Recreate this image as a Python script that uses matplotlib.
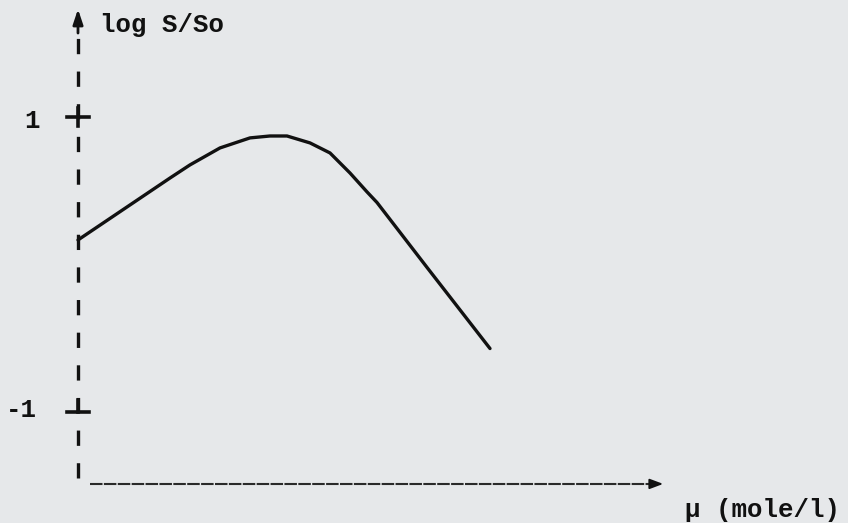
import matplotlib.pyplot as plt

plt.rcParams['lines.scale_dashes'] = False

# curve (x in arbitrary units along the mu axis)
mu = [0, 0.92, 1.12, 1.42, 1.72, 1.92, 2.09, 2.32, 2.52, 2.72, 2.89, 2.99, 3.49, 4.12]
log_s = [0.166, 0.586, 0.675, 0.79, 0.858, 0.871, 0.871, 0.824, 0.756, 0.62,
         0.492, 0.42, -0.02, -0.57]

y_ticks = [1, -1]
y_tick_labels = ['1', '-1']

bg = '#e6e8ea'
ink = '#111111'
font = 'Liberation Mono'

fig = plt.figure(figsize=(8.48, 5.23), dpi=100)
fig.patch.set_facecolor(bg)
ax = fig.add_axes([0, 0, 1, 1])
ax.set_facecolor(bg)
ax.set_xlim(-0.78, 7.70)
ax.set_ylim(-1.753, 1.793)
ax.axis('off')

# dashed y axis with arrow on top
ax.plot([0, 0], [-1.45, 1.56], color=ink, lw=2.4, linestyle=(0, (11, 12.5)))
ax.annotate('', xy=(0, 1.75), xytext=(0, 1.55),
            arrowprops=dict(arrowstyle='-|>,head_length=0.9,head_width=0.3',
                            color=ink, lw=2))

# tick marks: "+" at 1, "_|_" at -1
ax.plot([-0.11, 0.11], [y_ticks[0]] * 2, color=ink, lw=2.6)
ax.plot([0, 0], [0.94, 1.06], color=ink, lw=2.6)
ax.plot([-0.11, 0.11], [y_ticks[1]] * 2, color=ink, lw=2.6)
ax.plot([0, 0], [-1, -0.92], color=ink, lw=2.6)

# x axis, thin broken line with arrow
ax.plot([0.12, 5.8], [-1.488, -1.488], color='#2a2a2a', lw=1.5,
        linestyle=(0, (9, 1)))
ax.annotate('', xy=(5.88, -1.488), xytext=(5.7, -1.488),
            arrowprops=dict(arrowstyle='-|>,head_length=0.8,head_width=0.3',
                            color=ink, lw=1.4))

# the curve
ax.plot(mu, log_s, color=ink, lw=2.4, solid_capstyle='round',
        solid_joinstyle='round')

# texts
ax.text(0.22, 1.576, 'log S/So', fontsize=18.5, family=font, color=ink,
        ha='left', va='baseline', fontweight='bold')
ax.text(-0.46, 0.925, y_tick_labels[0], fontsize=18.5, family=font, color=ink,
        ha='center', va='baseline', fontweight='bold')
ax.text(-0.41, -1.034, y_tick_labels[1], fontsize=18.5, family=font, color=ink,
        ha='right', va='baseline', fontweight='bold')
ax.text(6.07, -1.71, 'μ (mole/l)', fontsize=18.5, family=font, color=ink,
        ha='left', va='baseline', fontweight='bold')

plt.savefig('out.png', dpi=100, facecolor=bg)
